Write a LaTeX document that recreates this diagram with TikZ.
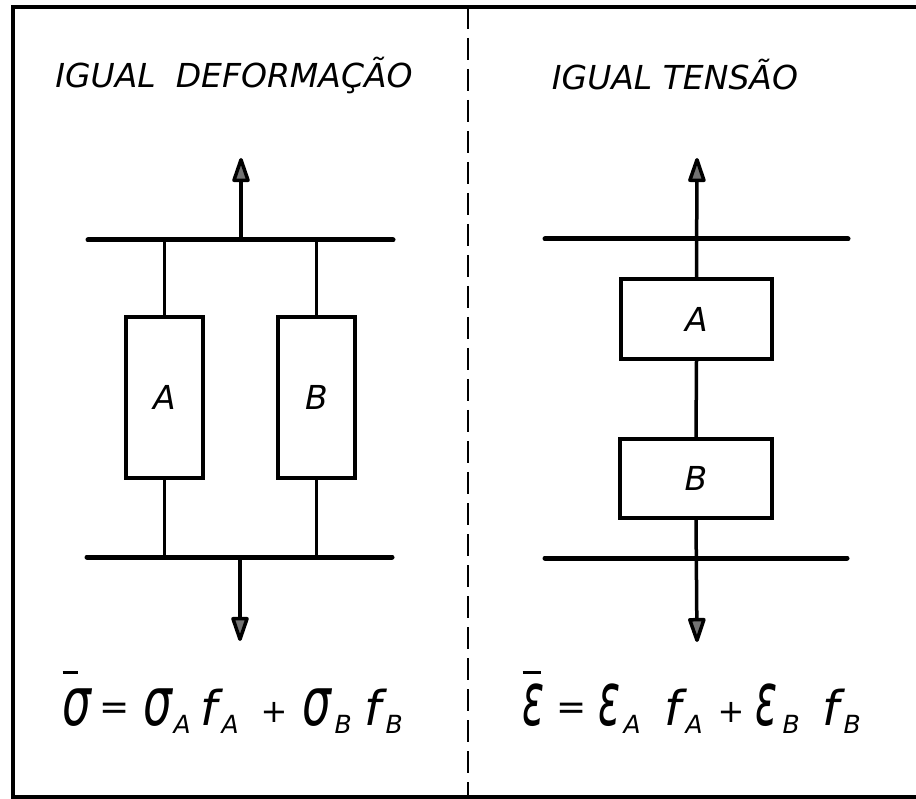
\documentclass[tikz,border=0pt]{standalone}
\usepackage{fontspec}
\usepackage{graphicx}
\setmainfont{DejaVu Sans}
\usetikzlibrary{arrows.meta}
\newcommand\sg{\scalebox{0.95}[1.4]{σ}}
\newcommand\ep{\scalebox{0.85}[1.55]{ε}}
\newcommand\lo[1]{\raisebox{-8pt}{\fontsize{25}{25}\selectfont #1}}
\newcommand\at[2]{\rlap{\hspace{#1pt}#2}}
\newcommand\eqs{\raisebox{6pt}{\fontsize{36}{36}\selectfont =}}
\newcommand\pls{\raisebox{3pt}{\fontsize{32}{32}\selectfont +}}
\newcommand\topbar[2]{\rlap{\hspace{#1pt}\raisebox{51pt}{\rule{#2pt}{3.5pt}}}}
\tikzset{
  frame/.style={line width=3.5pt},
  divider/.style={line width=2.5pt, dash pattern=on 22pt off 9pt},
  plate/.style={line width=5pt, line cap=round},
  link/.style={line width=3.5pt},
  elem/.style={draw, line width=3.5pt, inner sep=0pt, font=\itshape\fontsize{33}{33}\selectfont},
  force/.style={line width=3.5pt, -{Triangle[length=28pt,width=18pt,round,fill=black!55]}},
  title/.style={font=\itshape\fontsize{33}{33}\selectfont},
  formula/.style={font=\itshape\fontsize{48}{48}\selectfont, inner sep=0pt}
}
\begin{document}
\begin{tikzpicture}[x=1pt,y=-1pt]
\useasboundingbox (0,0) rectangle (916,799);
% frame and divider
\draw[frame] (916,7) -- (13,7) -- (13,797) -- (916,797);
\draw[divider] (468,7) -- (468,797);

% ---------- left panel: equal strain ----------
\node[title] (tL) at (234,75) {IGUAL\hspace{20pt}DEFORMAÇÃO};
\coordinate (lt1) at (88,240);  \coordinate (lt2) at (393,240);
\coordinate (lb1) at (87,557);  \coordinate (lb2) at (392,557);
\draw[plate] (lt1) -- (lt2);
\draw[plate] (lb1) -- (lb2);
\node[elem, minimum width=77pt, minimum height=161pt] (LA) at (164.5,397.5) {A};
\node[elem, minimum width=77pt, minimum height=161pt] (LB) at (316.5,397.5) {B};
\draw[link] (LA.north) -- (LA.north |- lt1);
\draw[link] (LB.north) -- (LB.north |- lt1);
\draw[link] (LA.south) -- (LA.south |- lb1);
\draw[link] (LB.south) -- (LB.south |- lb1);
\coordinate (lup0) at (241,240); \coordinate (lup1) at (241,158);
\coordinate (ldn0) at (240,557); \coordinate (ldn1) at (240,641);
\draw[force] (lup0) -- (lup1);
\draw[force] (ldn0) -- (ldn1);
\node[formula, anchor=base west] (fL) at (62,725)
  {\topbar{0}{15}\at{0}{\sg}\at{37}{\eqs}\at{81}{\sg}\at{111}{\lo{A}}\at{138}{f}\at{159}{\lo{A}}\at{198}{\pls}%
   \at{240}{\sg}\at{272}{\lo{B}}\at{302}{f}\at{323}{\lo{B}}\hspace{341pt}};

% ---------- right panel: equal stress ----------
\node[title] (tR) at (675,75) {IGUAL TENSÃO};
\coordinate (rt1) at (545,239);  \coordinate (rt2) at (848,239);
\coordinate (rb1) at (545,558);  \coordinate (rb2) at (847,558);
\draw[plate] (rt1) -- (rt2);
\draw[plate] (rb1) -- (rb2);
\node[elem, minimum width=151pt, minimum height=80pt] (RA) at (696.5,319) {A};
\node[elem, minimum width=152pt, minimum height=79pt] (RB) at (696,478.5) {B};
\coordinate (rup) at (697,158);
\coordinate (rdn) at (697,642);
\draw[force] (RA.north) -- (rup);
\draw[link] (RA.south) -- (RB.north);
\draw[force] (RB.south) -- (rdn);
\node[formula, anchor=base west] (fR) at (522,725)
  {\topbar{0}{18}\at{0}{\ep}\at{34}{\eqs}\at{76}{\ep}\at{101}{\lo{A}}\at{142}{f}\at{163}{\lo{A}}\at{195}{\pls}%
   \at{233}{\ep}\at{260}{\lo{B}}\at{300}{f}\at{321}{\lo{B}}\hspace{341pt}};
\end{tikzpicture}
\end{document}
